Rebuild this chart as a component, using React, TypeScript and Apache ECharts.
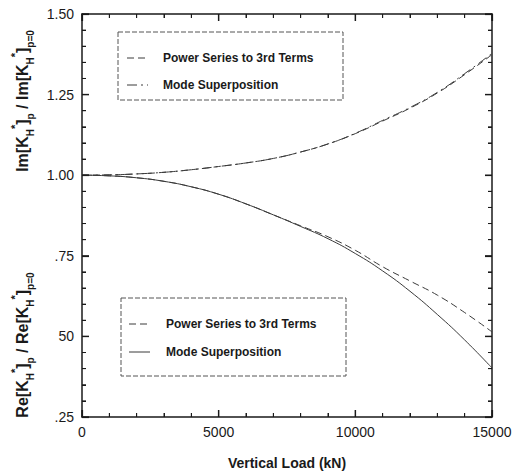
import React, { useEffect, useRef } from "react";
import * as echarts from "echarts";

const loads = [0, 1000, 2000, 3000, 4000, 5000, 6000, 7000, 8000, 9000, 10000, 11000, 12000, 13000, 14000, 15000];
const imPower = [1.0, 1.001, 1.004, 1.009, 1.017, 1.027, 1.038, 1.052, 1.072, 1.097, 1.129, 1.168, 1.208, 1.255, 1.312, 1.374];
const imMode = [1.0, 1.001, 1.004, 1.009, 1.017, 1.027, 1.038, 1.052, 1.072, 1.097, 1.13, 1.17, 1.21, 1.257, 1.315, 1.378];
const rePower = [1.0, 0.998, 0.992, 0.981, 0.964, 0.941, 0.911, 0.877, 0.843, 0.809, 0.767, 0.716, 0.672, 0.628, 0.574, 0.514];
const reMode = [1.0, 0.998, 0.992, 0.981, 0.964, 0.941, 0.911, 0.877, 0.841, 0.803, 0.757, 0.703, 0.64, 0.568, 0.489, 0.402];

const yTickValues = [0.25, 0.5, 0.75, 1.0, 1.25, 1.5];
const yTickLabels = [".25", "50", ".75", "1.00", "1.25", "1.50"];
const xTickLabels = ["0", "5000", "10000", "15000"];

const legendNames = ["Power Series to 3rd Terms", "Mode Superposition"];
const xTitle = "Vertical Load (kN)";

const X_MIN = 0;
const X_MAX = 15000;
const X_MAJOR = 5000;
const X_MINOR = 1000;
const Y_MIN = 0.25;
const Y_MAX = 1.5;
const Y_MAJOR = 0.25;
const Y_MINOR = 0.05;

const FONT = "'Liberation Sans', Arial, Helvetica, sans-serif";
const INK = "#1a1a1a";
const LINE = "#3a3a3a";

const dashPower: number[] = [7, 4];
const dashModeTop: number[] = [10, 4, 2, 4];

function pairs(ys: number[]) {
  return loads.map((x, i) => [x, ys[i]]);
}

function tickData() {
  const out: number[][] = [];
  const nx = Math.round((X_MAX - X_MIN) / X_MINOR);
  for (let i = 0; i <= nx; i++) {
    const v = X_MIN + i * X_MINOR;
    out.push([v, Y_MIN, 0, Math.abs(v / X_MAJOR - Math.round(v / X_MAJOR)) < 1e-6 ? 1 : 0]);
  }
  const ny = Math.round((Y_MAX - Y_MIN) / Y_MINOR);
  for (let i = 0; i <= ny; i++) {
    const v = Y_MIN + i * Y_MINOR;
    out.push([X_MIN, v, 1, Math.abs(v / Y_MAJOR - Math.round(v / Y_MAJOR)) < 1e-6 ? 1 : 0]);
  }
  return out;
}

export default function App() {
  const ref = useRef<HTMLDivElement>(null);
  useEffect(() => {
    if (!ref.current) return;
    const chart = echarts.init(ref.current, undefined, { renderer: "svg" });

    const mkAxisLine = () => ({ show: true, onZero: false, lineStyle: { color: INK, width: 1.5 } });
    const mkAxisTick = () => ({ show: true, inside: true, length: 7, lineStyle: { color: INK, width: 1.2 } });
    const mkMinorTick = () => ({ show: true, splitNumber: 5, length: 4, lineStyle: { color: INK, width: 1 } });

    const titleRich = {
      s: { fontSize: 10, fontWeight: "bold", fontFamily: FONT, lineHeight: 10, verticalAlign: "bottom", fill: INK },
      p: { fontSize: 11, fontWeight: "bold", fontFamily: FONT, lineHeight: 11, verticalAlign: "top", fill: INK },
      m: { fontSize: 16, fontWeight: "bold", fontFamily: FONT, lineHeight: 26, verticalAlign: "middle", fill: INK },
    };

    const legendBox = (x: number, y: number, w: number, h: number) => ({
      type: "rect",
      shape: { x, y, width: w, height: h },
      style: { fill: "none", stroke: "#555", lineWidth: 1, lineDash: [5, 2] },
    });
    const legendText = (x: number, y: number, t: string) => ({
      type: "text",
      x,
      y,
      style: { text: t, font: `bold 12px ${FONT}`, fill: INK, verticalAlign: "middle", align: "left" },
    });
    const legendLine = (x: number, y: number, dash: number[] | null) => ({
      type: "line",
      shape: { x1: x, y1: y, x2: x + 21, y2: y },
      style: { stroke: LINE, lineWidth: 1, lineDash: dash || undefined },
    });

    const renderTick = (params: any, api: any) => {
      const kind = api.value(2);
      const major = api.value(3) === 1;
      const cs = params.coordSys;
      const len = major ? 7 : 4;
      const style = { stroke: INK, lineWidth: major ? 1.3 : 1, fill: null };
      const pt = api.coord([api.value(0), api.value(1)]);
      if (kind === 0) {
        const px = pt[0];
        return {
          type: "group",
          children: [
            { type: "line", shape: { x1: px, y1: cs.y + cs.height, x2: px, y2: cs.y + cs.height - len }, style },
            { type: "line", shape: { x1: px, y1: cs.y, x2: px, y2: cs.y + len }, style },
          ],
        };
      }
      const py = pt[1];
      return {
        type: "group",
        children: [
          { type: "line", shape: { x1: cs.x, y1: py, x2: cs.x + len, y2: py }, style },
          { type: "line", shape: { x1: cs.x + cs.width, y1: py, x2: cs.x + cs.width - len, y2: py }, style },
        ],
      };
    };

    const option: any = {
      animation: false,
      backgroundColor: "#ffffff",
      grid: [{ left: 82, top: 14, width: 410, height: 403, outerBoundsMode: "none", containLabel: false }],
      xAxis: [
        {
          type: "value",
          gridIndex: 0,
          min: X_MIN,
          max: X_MAX,
          interval: X_MAJOR,
          position: "bottom",
          axisLine: mkAxisLine(),
          axisTick: mkAxisTick(),
          minorTick: mkMinorTick(),
          splitLine: { show: false },
          axisLabel: {
            color: INK,
            fontSize: 14,
            fontFamily: FONT,
            margin: 8,
            formatter: (v: number) => xTickLabels[Math.round(v / X_MAJOR)] ?? "",
          },
          name: xTitle,
          nameLocation: "middle",
          nameGap: 39,
          nameTextStyle: { color: INK, fontSize: 14, fontWeight: "bold", fontFamily: FONT },
        },
        {
          type: "value",
          gridIndex: 0,
          min: X_MIN,
          max: X_MAX,
          interval: X_MAJOR,
          position: "top",
          axisLine: mkAxisLine(),
          axisTick: mkAxisTick(),
          minorTick: mkMinorTick(),
          splitLine: { show: false },
          axisLabel: { show: false },
        },
      ],
      yAxis: [
        {
          type: "value",
          gridIndex: 0,
          min: Y_MIN,
          max: Y_MAX,
          interval: Y_MAJOR,
          position: "left",
          axisLine: mkAxisLine(),
          axisTick: mkAxisTick(),
          minorTick: mkMinorTick(),
          splitLine: { show: false },
          axisLabel: {
            color: INK,
            fontSize: 14,
            fontFamily: FONT,
            margin: 8,
            formatter: (v: number) => {
              const i = yTickValues.findIndex((t) => Math.abs(t - v) < 1e-6);
              return i >= 0 ? yTickLabels[i] : "";
            },
          },
        },
        {
          type: "value",
          gridIndex: 0,
          min: Y_MIN,
          max: Y_MAX,
          interval: Y_MAJOR,
          position: "right",
          axisLine: mkAxisLine(),
          axisTick: mkAxisTick(),
          minorTick: mkMinorTick(),
          splitLine: { show: false },
          axisLabel: { show: false },
        },
      ],
      series: [
        {
          type: "line",
          data: pairs(imPower),
          showSymbol: false,
          smooth: true,
          lineStyle: { color: LINE, width: 1, type: dashPower },
        },
        {
          type: "line",
          data: pairs(imMode),
          showSymbol: false,
          smooth: true,
          lineStyle: { color: LINE, width: 1, type: dashModeTop },
        },
        {
          type: "line",
          data: pairs(rePower),
          showSymbol: false,
          smooth: true,
          lineStyle: { color: LINE, width: 1, type: dashPower },
        },
        {
          type: "line",
          data: pairs(reMode),
          showSymbol: false,
          smooth: true,
          lineStyle: { color: LINE, width: 1, type: "solid" },
        },
        {
          type: "custom",
          data: tickData(),
          renderItem: renderTick,
          silent: true,
          clip: false,
          z: 10,
          encode: { x: 0, y: 1 },
        },
      ],
      graphic: [
        legendBox(118, 32, 225, 68),
        legendLine(127, 58, dashPower),
        legendText(163, 58, legendNames[0]),
        legendLine(127, 85, dashModeTop),
        legendText(163, 85, legendNames[1]),
        legendBox(121, 298, 225, 78),
        legendLine(129, 324, dashPower),
        legendText(166, 324, legendNames[0]),
        legendLine(129, 352, null),
        legendText(166, 352, legendNames[1]),
        {
          type: "text",
          x: 22,
          y: 101,
          rotation: Math.PI / 2,
          style: {
            text: "{m|Im[K}{s|H}{p|*}{m|]}{s|p}{m| / Im[K}{s|H}{p|*}{m|]}{s|p=0}",
            rich: titleRich,
            align: "center",
            verticalAlign: "middle",
            fill: INK,
          },
        },
        {
          type: "text",
          x: 22,
          y: 345,
          rotation: Math.PI / 2,
          style: {
            text: "{m|Re[K}{s|H}{p|*}{m|]}{s|p}{m| / Re[K}{s|H}{p|*}{m|]}{s|p=0}",
            rich: titleRich,
            align: "center",
            verticalAlign: "middle",
            fill: INK,
          },
        },
      ],
    };

    chart.setOption(option);
    return () => chart.dispose();
  }, []);

  return (
    <div
      ref={ref}
      style={{ position: "absolute", left: 0, top: 0, width: 521, height: 473, background: "#fff" }}
    />
  );
}
